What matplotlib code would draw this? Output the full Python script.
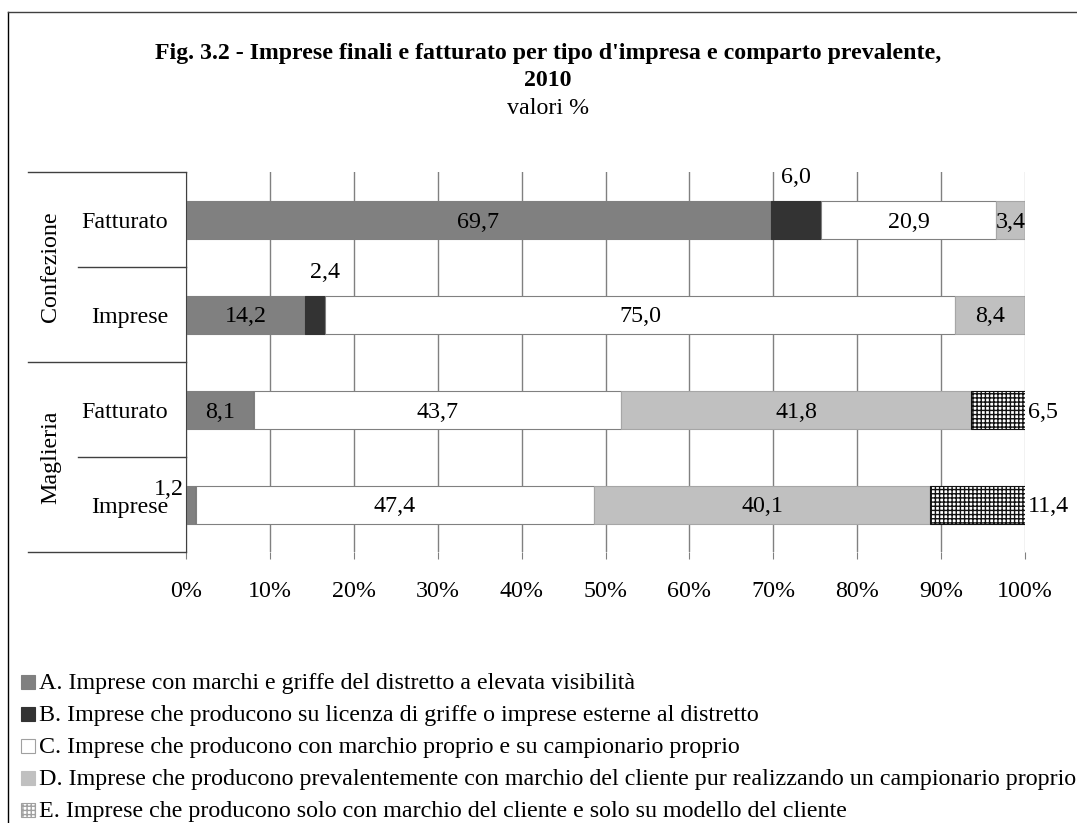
import matplotlib.pyplot as plt
import numpy as np
from matplotlib.patches import Rectangle
from matplotlib.lines import Line2D

plt.rcParams['font.family'] = ['Liberation Serif', 'DejaVu Serif']
plt.rcParams['hatch.linewidth'] = 1.0

# data (top to bottom)
groups = ["Confezione", "Maglieria"]
rows = ["Fatturato", "Imprese", "Fatturato", "Imprese"]
series = ["A", "B", "C", "D", "E"]
val_A = [69.7, 14.2, 8.1, 1.2]
val_B = [6.0, 2.4, 0.0, 0.0]
val_C = [20.9, 75.0, 43.7, 47.4]
val_D = [3.4, 8.4, 41.8, 40.1]
val_E = [0.0, 0.0, 6.5, 11.4]
legend_labels = [
    "A. Imprese con marchi e griffe del distretto a elevata visibilità",
    "B. Imprese che producono su licenza di griffe o imprese esterne al distretto",
    "C. Imprese che producono con marchio proprio e su campionario proprio",
    "D. Imprese che producono prevalentemente con marchio del cliente pur realizzando un campionario proprio",
    "E. Imprese che producono solo con marchio del cliente e solo su modello del cliente",
]

W, H = 1077, 823
fig = plt.figure(figsize=(W / 100, H / 100), dpi=100)
ax = fig.add_axes([186 / W, 1 - 552 / H, 839 / W, 380 / H])

fs = 17.3
faces = ["#808080", "#333333", "#ffffff", "#c0c0c0", "#ffffff"]
edges = ["#808080", "#333333", "#808080", "#a6a6a6", "#111111"]
hatches = [None, None, None, None, "++++"]
values = [val_A, val_B, val_C, val_D, val_E]

ypos = np.arange(len(rows))[::-1]
left = np.zeros(len(rows))
for k, vals in enumerate(values):
    vals = np.array(vals)
    ax.barh(ypos, vals, left=left, height=0.4, color=faces[k],
            edgecolor=edges[k], linewidth=0.8, hatch=hatches[k], zorder=3)
    for i, v in enumerate(vals):
        if v == 0:
            continue
        cx = left[i] + v / 2
        cy = ypos[i]
        txt = f"{v:.1f}".replace(".", ",")
        kw = dict(va="center_baseline", fontsize=fs, zorder=4)
        if series[k] == "B":
            ax.text(cx + (1.2 if v < 3 else 0), cy + 0.47, txt, ha="center", **kw)
        elif series[k] == "E":
            ax.text(100.4, cy, txt, ha="left", **kw)
        elif series[k] == "A" and v < 2:
            ax.text(left[i] - 0.2, cy + 0.18, txt, ha="right", **kw)
        else:
            ax.text(cx, cy, txt, ha="center", **kw)
    left += vals

ax.set_xlim(0, 100)
ax.set_ylim(-0.5, 3.5)
ax.set_xticks(np.arange(0, 101, 10))
ax.set_xticklabels([f"{t}%" for t in range(0, 101, 10)], fontsize=fs)
ax.tick_params(axis="x", length=5, color="#808080", pad=16)
ax.set_yticks(ypos)
ax.set_yticklabels(rows, fontsize=fs)
ax.tick_params(axis="y", length=0, pad=13)
ax.grid(axis="x", color="#808080", linewidth=1, zorder=0)
ax.xaxis.get_gridlines()[-1].set_color("#c0c0c0")
for s in ["top", "right", "bottom"]:
    ax.spines[s].set_visible(False)
ax.spines["left"].set_color("#404040")
ax.spines["left"].set_zorder(5)

# two-level category axis lines
tr = ax.get_yaxis_transform()
for yb, x0 in [(3.5, -0.1883), (2.5, -0.1287), (1.5, -0.1883), (0.5, -0.1287), (-0.5, -0.1883)]:
    ax.plot([x0, 0], [yb, yb], transform=tr, color="#404040", linewidth=1, clip_on=False)
for g, yc in zip(groups, [2.5, 0.5]):
    ax.text(-0.161, yc, g, transform=tr, rotation=90, ha="center", va="center", fontsize=fs)

# titles
fig.text(548 / W, 1 - 53 / H, "Fig. 3.2 - Imprese finali e fatturato per tipo d'impresa e comparto prevalente,",
         ha="center", va="center", fontsize=17.2, fontweight="bold")
fig.text(548 / W, 1 - 80 / H, "2010", ha="center", va="center", fontsize=17.2, fontweight="bold")
fig.text(548 / W, 1 - 109 / H, "valori %", ha="center", va="center", fontsize=fs)

# legend
for i, lab in enumerate(legend_labels):
    yc = 682 + 32 * i
    fig.patches.append(Rectangle((21 / W, 1 - (yc + 7) / H), 14 / W, 14 / H, transform=fig.transFigure,
                                 facecolor=faces[i], edgecolor="#a0a0a0" if i in (2, 4) else faces[i],
                                 linewidth=0.8, hatch=hatches[i]))
    fig.text(39 / W, 1 - (yc + 7.5) / H, lab, ha="left", va="baseline", fontsize=fs)

# outer frame
fig.add_artist(Line2D([8 / W, 8 / W], [0, 1 - 12 / H], transform=fig.transFigure, color="black", linewidth=1))
fig.add_artist(Line2D([8 / W, 1], [1 - 12 / H, 1 - 12 / H], transform=fig.transFigure, color="#404040", linewidth=1))

fig.savefig("out.png", dpi=100)
